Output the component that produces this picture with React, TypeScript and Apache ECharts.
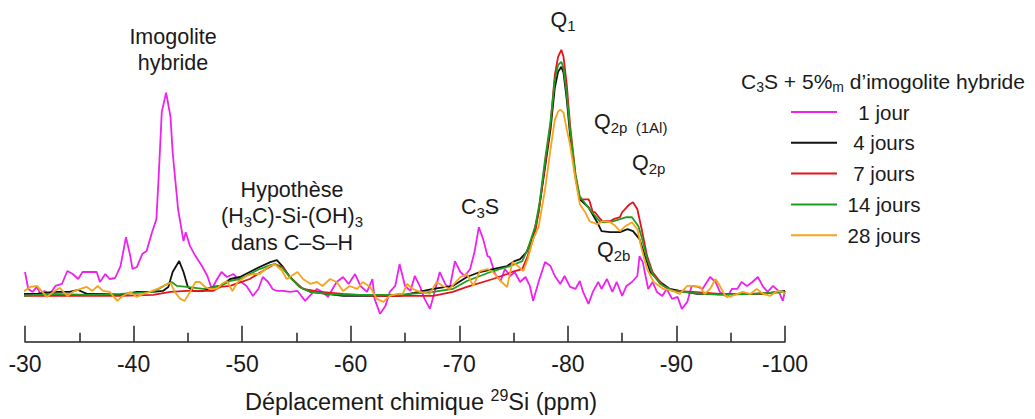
import React, { useEffect, useRef } from "react";
import * as echarts from "echarts";

type Pt = [number, number];

const seriesNames = ["1 jour", "4 jours", "7 jours", "14 jours", "28 jours"];
const seriesColors = ["#ee22ee", "#111111", "#e4141b", "#1f9d1f", "#f5a41c"];

// chemical shift (ppm), intensity (a.u.)
const jour1: Pt[] = [[-30.0,23],[-30.3,6],[-30.7,3],[-31.1,8],[-31.4,1],[-31.8,4],[-32.3,1],[-32.8,9],[-33.4,11],[-33.9,24],[-34.4,21],[-34.9,16],[-35.3,23],[-36.0,23],[-36.6,23],[-36.9,13],[-37.4,21],[-37.8,16],[-38.3,17],[-38.8,29],[-39.3,58],[-39.7,39],[-39.9,26],[-40.3,28],[-40.8,41],[-41.2,44],[-41.7,63],[-42.1,76],[-42.3,116],[-42.6,184],[-43.0,203],[-43.4,179],[-43.6,143],[-44.1,86],[-44.6,54],[-44.8,63],[-45.2,49],[-45.7,39],[-46.3,29],[-46.8,19],[-47.2,6],[-47.7,16],[-48.1,23],[-48.6,18],[-49.2,21],[-49.8,14],[-50.4,9],[-51.0,-1],[-51.5,6],[-51.9,18],[-52.4,13],[-52.8,6],[-53.2,4],[-53.8,4],[-54.4,3],[-55.1,4],[-55.8,-6],[-56.4,1],[-56.9,6],[-57.4,3],[-57.9,-2],[-58.7,13],[-59.3,18],[-59.8,11],[-60.4,21],[-60.9,9],[-61.5,3],[-62.0,16],[-62.2,-4],[-62.7,-19],[-63.2,-11],[-63.6,3],[-64.1,9],[-64.5,31],[-65.0,9],[-65.5,4],[-65.9,19],[-66.4,8],[-66.8,-4],[-67.3,-14],[-67.8,6],[-68.2,23],[-68.7,11],[-69.1,6],[-69.6,34],[-70.1,23],[-70.5,19],[-71.0,26],[-71.4,43],[-71.8,68],[-72.2,56],[-72.6,39],[-72.8,38],[-73.3,21],[-73.8,14],[-74.2,26],[-74.7,19],[-75.1,23],[-75.6,13],[-76.1,18],[-76.5,9],[-76.8,-6],[-77.3,13],[-77.9,33],[-78.4,29],[-78.8,19],[-79.3,11],[-79.7,19],[-80.2,8],[-80.7,6],[-81.1,14],[-81.4,3],[-81.9,-9],[-82.3,3],[-82.8,13],[-83.1,6],[-83.6,16],[-84.1,3],[-84.5,13],[-85.0,-1],[-85.4,9],[-85.9,13],[-86.4,19],[-86.6,39],[-86.9,33],[-87.4,6],[-87.8,13],[-88.2,3],[-88.7,-1],[-89.1,6],[-89.6,-4],[-90.1,-2],[-90.5,-14],[-91.0,-7],[-91.4,9],[-92.0,8],[-92.4,6],[-93.1,18],[-93.6,13],[-94.0,3],[-94.7,-2],[-95.1,6],[-95.6,6],[-96.0,13],[-96.5,9],[-97.0,13],[-97.5,18],[-98.0,8],[-98.4,3],[-98.9,9],[-99.4,4],[-99.8,-6],[-100.0,4]];

const jour4: Pt[] = [[-29.8,1],[-31.1,1],[-32.6,3],[-34.1,3],[-34.9,5],[-35.7,1],[-37.2,1],[-38.8,0],[-40.3,3],[-41.8,3],[-42.7,4],[-43.2,8],[-43.6,23],[-44.2,34],[-44.6,23],[-45.0,8],[-45.5,4],[-46.4,4],[-47.3,8],[-48.0,9],[-48.9,16],[-49.8,18],[-50.7,23],[-51.6,28],[-52.6,33],[-53.2,35],[-53.7,29],[-54.4,18],[-55.3,8],[-56.3,3],[-57.8,1],[-59.3,-1],[-62.4,-1],[-64.5,-1],[-67.6,6],[-69.4,9],[-70.7,18],[-71.9,23],[-73.1,26],[-74.4,29],[-75.1,34],[-75.6,36],[-76.2,43],[-76.8,59],[-77.3,83],[-77.9,128],[-78.4,166],[-78.8,208],[-79.1,224],[-79.4,229],[-79.6,223],[-79.9,196],[-80.2,161],[-80.7,118],[-81.1,96],[-81.9,88],[-82.7,73],[-83.1,64],[-83.9,63],[-84.8,63],[-85.5,66],[-86.0,64],[-86.6,56],[-87.1,39],[-87.6,23],[-88.5,13],[-89.4,6],[-90.3,4],[-91.9,1],[-94.9,1],[-98.0,1],[-100.0,4]];

const jour7: Pt[] = [[-29.8,-1],[-32.6,-1],[-35.7,-1],[-38.8,-1],[-41.8,0],[-43.4,3],[-44.9,4],[-46.4,4],[-47.3,4],[-48.0,8],[-48.9,9],[-50.7,16],[-51.9,24],[-53.0,31],[-53.7,28],[-54.4,18],[-55.6,6],[-57.2,3],[-59.3,1],[-62.4,-1],[-64.5,-1],[-67.6,-1],[-69.4,3],[-70.7,8],[-73.1,16],[-74.4,21],[-75.1,24],[-75.8,26],[-76.3,39],[-77.0,63],[-77.3,83],[-77.9,131],[-78.4,171],[-78.8,221],[-79.1,239],[-79.4,246],[-79.6,239],[-79.9,211],[-80.2,171],[-80.7,121],[-81.1,96],[-81.3,96],[-81.9,96],[-82.0,94],[-82.3,83],[-82.5,83],[-83.0,76],[-83.2,74],[-83.9,74],[-84.2,76],[-84.8,78],[-85.0,83],[-85.5,89],[-85.7,91],[-86.0,93],[-86.4,86],[-86.8,66],[-87.3,39],[-87.8,23],[-88.5,13],[-88.8,9],[-89.7,4],[-91.5,3],[-94.0,1],[-97.0,1],[-100.0,3]];

const jour14: Pt[] = [[-29.8,-1],[-32.6,1],[-35.7,0],[-38.8,1],[-41.8,3],[-43.1,11],[-43.5,13],[-44.0,9],[-44.9,8],[-46.4,6],[-48.0,9],[-48.9,14],[-49.8,16],[-50.7,21],[-51.6,26],[-52.6,30],[-53.0,31],[-53.7,27],[-54.4,18],[-55.3,8],[-56.3,3],[-57.8,1],[-59.3,0],[-62.4,0],[-64.5,0],[-67.6,3],[-69.4,6],[-70.7,14],[-73.1,24],[-74.7,29],[-75.8,34],[-76.3,46],[-77.0,69],[-77.4,93],[-77.9,136],[-78.4,174],[-78.8,216],[-79.1,231],[-79.4,234],[-79.6,228],[-79.9,201],[-80.2,166],[-80.7,121],[-81.1,99],[-82.0,86],[-83.0,73],[-83.9,73],[-84.8,76],[-85.4,78],[-85.9,78],[-86.5,69],[-86.8,58],[-87.3,36],[-87.8,21],[-88.5,11],[-89.7,4],[-91.5,2],[-94.0,0],[-97.0,1],[-100.0,3]];

const jour28: Pt[] = [[-29.8,3],[-30.5,8],[-31.1,9],[-31.6,3],[-32.0,-2],[-32.6,3],[-33.2,7],[-33.9,-1],[-34.4,3],[-35.1,6],[-35.7,8],[-36.2,4],[-36.7,9],[-37.2,4],[-37.8,3],[-38.5,-6],[-39.0,-1],[-39.7,3],[-40.3,-2],[-40.9,1],[-41.5,3],[-42.2,6],[-42.7,9],[-43.4,12],[-43.8,3],[-44.3,-4],[-44.7,-6],[-45.2,3],[-45.7,13],[-46.1,13],[-46.6,8],[-47.0,6],[-47.7,6],[-48.1,11],[-48.6,14],[-49.1,4],[-49.6,13],[-50.4,19],[-51.0,21],[-51.6,21],[-52.4,28],[-53.0,31],[-53.7,24],[-54.1,16],[-55.1,23],[-55.6,16],[-56.3,11],[-56.9,13],[-57.4,9],[-58.1,16],[-58.7,13],[-59.3,4],[-59.9,9],[-60.6,6],[-61.1,13],[-61.8,8],[-62.4,-4],[-63.0,-7],[-63.6,-1],[-64.3,1],[-64.8,1],[-65.2,11],[-65.7,6],[-66.4,3],[-67.3,1],[-67.9,13],[-68.5,9],[-69.1,6],[-70.1,18],[-70.7,21],[-71.3,9],[-71.9,24],[-72.6,26],[-73.1,23],[-73.8,14],[-74.4,8],[-74.9,33],[-75.4,29],[-75.9,24],[-76.3,36],[-76.8,56],[-77.3,68],[-77.9,106],[-78.4,146],[-78.8,176],[-79.1,184],[-79.3,186],[-79.6,183],[-79.9,166],[-80.2,151],[-80.7,116],[-81.1,91],[-81.6,83],[-82.0,74],[-82.7,71],[-83.2,74],[-83.9,73],[-84.3,70],[-84.8,64],[-85.3,69],[-85.9,73],[-86.4,66],[-86.8,46],[-87.3,26],[-87.9,13],[-88.8,6],[-89.7,4],[-90.3,1],[-91.0,9],[-91.5,9],[-92.2,8],[-92.6,1],[-93.1,6],[-93.6,16],[-94.0,9],[-94.5,-1],[-94.9,-2],[-95.6,1],[-96.1,3],[-96.8,1],[-97.4,6],[-98.0,1],[-98.6,-1],[-99.3,4],[-99.8,3],[-100.0,1]];

const seriesData = [jour1, jour4, jour7, jour14, jour28];

const xMin = -100;
const xMax = -30;
const xInterval = 10;
const yMin = -47;
const yMax = 276;

const FONT = "'Liberation Sans', Arial, sans-serif";
const TXT = "#1a1a1a";

function richStyles(size: number) {
  const sub = Math.round(size * 0.68);
  return {
    n: { fontSize: size, lineHeight: size + 5, verticalAlign: "middle", fontFamily: FONT, fill: TXT, color: TXT },
    s: { fontSize: sub, lineHeight: sub, verticalAlign: "bottom", fontFamily: FONT, fill: TXT, color: TXT },
    sup: { fontSize: sub, lineHeight: sub, verticalAlign: "top", fontFamily: FONT, fill: TXT, color: TXT },
  } as any;
}

function label(text: string, x: number, y: number, size: number, align: string = "center") {
  return {
    type: "text",
    x,
    y,
    silent: true,
    style: {
      text,
      rich: richStyles(size),
      align,
      verticalAlign: "middle",
      fontFamily: FONT,
      fontSize: size,
      fill: TXT,
    },
  };
}

export default function App() {
  const ref = useRef<HTMLDivElement>(null);

  useEffect(() => {
    if (!ref.current) return;
    const chart = echarts.init(ref.current, null, { renderer: "svg" });

    const legendX0 = 791;
    const legendX1 = 837;
    const legendTextX = 884;
    const legendY0 = 112;
    const legendGap = 30.8;

    const legendGraphics: any[] = [
      label("{n|C}{s|3}{n|S + 5%}{s|m}{n| d\u2019imogolite hybride}", 883, 81, 21),
    ];
    seriesNames.forEach((name, i) => {
      const y = legendY0 + i * legendGap;
      legendGraphics.push({
        type: "line",
        silent: true,
        shape: { x1: legendX0, y1: y, x2: legendX1, y2: y },
        style: { stroke: seriesColors[i], lineWidth: 2 },
      });
      legendGraphics.push(label("{n|" + name + "}", legendTextX, y, 20.5));
    });

    const annotations: any[] = [
      label("{n|Imogolite}\n{n|hybride}", 173, 50, 21.5),
      label("{n|Hypoth\u00e8se}\n{n|(H}{s|3}{n|C)-Si-(OH)}{s|3}\n{n|dans C\u2013S\u2013H}", 292, 216, 21.5),
      label("{n|C}{s|3}{n|S}", 480, 207, 21.5),
      label("{n|Q}{s|1}", 563, 20, 21.5),
      label("{n|Q}{s|2p  (1Al)}", 594, 122, 21.5, "left"),
      label("{n|Q}{s|2p}", 632, 163, 21.5, "left"),
      label("{n|Q}{s|2b}", 597, 250, 21.5, "left"),
    ];

    const option: any = {
      animation: false,
      backgroundColor: "#ffffff",
      grid: { left: 25, right: 250, top: 20, bottom: 76, containLabel: false },
      xAxis: {
        type: "value",
        inverse: true,
        min: xMin,
        max: xMax,
        interval: xInterval,
        axisLine: { show: true, onZero: false, lineStyle: { color: "#222", width: 1.5 } },
        axisTick: { show: true, inside: true, length: 16, lineStyle: { color: "#222", width: 1.5 } },
        minorTick: { show: true, splitNumber: 2, length: 9, lineStyle: { color: "#222", width: 1.5 } },
        splitLine: { show: false },
        minorSplitLine: { show: false },
        axisLabel: { fontSize: 23, color: TXT, margin: 11, fontFamily: FONT },
        name: "{n|D\u00e9placement chimique }{sup|29}{n|Si (ppm)}",
        nameLocation: "middle",
        nameGap: 46,
        nameTextStyle: {
          rich: richStyles(23.5),
          fontFamily: FONT,
          fontSize: 23.5,
          color: TXT,
          padding: [0, 0, 0, 32],
        },
      },
      yAxis: {
        type: "value",
        show: false,
        min: yMin,
        max: yMax,
        splitLine: { show: false },
      },
      series: seriesData.map((d, i) => ({
        type: "line",
        name: seriesNames[i],
        data: d,
        showSymbol: false,
        symbol: "none",
        lineStyle: { color: seriesColors[i], width: 1.8 },
        itemStyle: { color: seriesColors[i] },
        clip: true,
        silent: true,
      })),
      graphic: [...annotations, ...legendGraphics],
    };

    chart.setOption(option);
    return () => chart.dispose();
  }, []);

  return (
    <div
      ref={ref}
      style={{ position: "fixed", left: 0, top: 0, width: 1035, height: 419, background: "#fff" }}
    />
  );
}
